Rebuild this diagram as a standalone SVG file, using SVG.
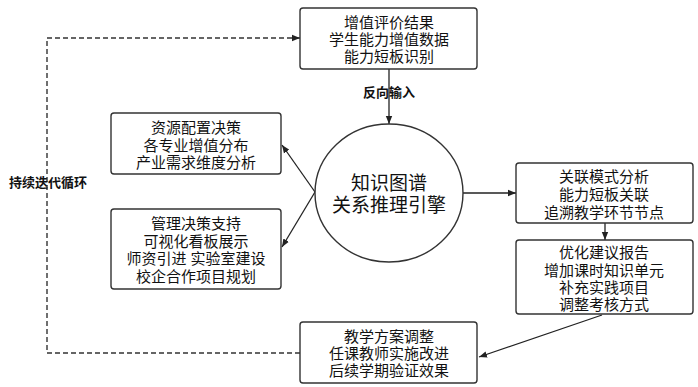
<svg xmlns="http://www.w3.org/2000/svg" width="698" height="387" viewBox="0 0 698 387">
<defs>
<marker id="ah" viewBox="0 0 10 10" refX="10" refY="5" markerWidth="8" markerHeight="8" markerUnits="userSpaceOnUse" orient="auto">
<path d="M0,1 L10,5 L0,9 z" fill="#222"/>
</marker>
<style>
.box{fill:#fff;stroke:#333;stroke-width:1.4}
.t{font-family:"Liberation Sans","Noto Sans CJK SC",sans-serif;font-size:15px;fill:#111;text-anchor:middle;dominant-baseline:central}
.big{font-size:19px}
.lb{font-size:13px;font-weight:bold}
.ln{fill:none;stroke:#222;stroke-width:1.3}
.dash{fill:none;stroke:#333;stroke-width:1.4;stroke-dasharray:5 3}
</style>
</defs>
<rect width="698" height="387" fill="#fff"/>
<g id="connectors">
<path class="dash" d="M300,353 H47 V38 H300" marker-end="url(#ah)"/>
<line class="ln" x1="389" y1="69" x2="389" y2="124" marker-end="url(#ah)"/>
<line class="ln" x1="315" y1="192" x2="282" y2="145" marker-end="url(#ah)"/>
<line class="ln" x1="315" y1="192" x2="282" y2="247" marker-end="url(#ah)"/>
<line class="ln" x1="463" y1="193" x2="516" y2="193" marker-end="url(#ah)"/>
<line class="ln" x1="605" y1="223" x2="605" y2="240" marker-end="url(#ah)"/>
<line class="ln" x1="602" y1="315" x2="479" y2="357" marker-end="url(#ah)"/>
<text class="t lb" x="389" y="92">反向输入</text>
<text class="t lb" x="48" y="182">持续迭代循环</text>
</g>
<g id="eval">
<rect class="box" x="300" y="8" width="177" height="61" rx="3"/>
<text class="t" x="389" y="22">增值评价结果</text>
<text class="t" x="389" y="39">学生能力增值数据</text>
<text class="t" x="389" y="56">能力短板识别</text>
</g>
<g id="engine">
<ellipse cx="389" cy="193" rx="74" ry="69" fill="#fff" stroke="#333" stroke-width="1.4"/>
<text class="t big" x="389" y="183">知识图谱</text>
<text class="t big" x="389" y="205">关系推理引擎</text>
</g>
<g id="resource">
<rect class="box" x="111" y="113" width="170" height="61" rx="3"/>
<text class="t" x="196" y="127">资源配置决策</text>
<text class="t" x="196" y="145">各专业增值分布</text>
<text class="t" x="196" y="162">产业需求维度分析</text>
</g>
<g id="management">
<rect class="box" x="111" y="209" width="170" height="80" rx="3"/>
<text class="t" x="196" y="223">管理决策支持</text>
<text class="t" x="196" y="241">可视化看板展示</text>
<text class="t" x="196" y="258">师资引进  实验室建设</text>
<text class="t" x="196" y="276">校企合作项目规划</text>
</g>
<g id="pattern">
<rect class="box" x="516" y="163" width="177" height="60" rx="3"/>
<text class="t" x="604" y="176">关联模式分析</text>
<text class="t" x="604" y="194">能力短板关联</text>
<text class="t" x="604" y="212">追溯教学环节节点</text>
</g>
<g id="report">
<rect class="box" x="516" y="240" width="177" height="74" rx="3"/>
<text class="t" x="604" y="252">优化建议报告</text>
<text class="t" x="604" y="270">增加课时知识单元</text>
<text class="t" x="604" y="287">补充实践项目</text>
<text class="t" x="604" y="304">调整考核方式</text>
</g>
<g id="adjust">
<rect class="box" x="300" y="322" width="177" height="61" rx="3"/>
<text class="t" x="389" y="336">教学方案调整</text>
<text class="t" x="389" y="353">任课教师实施改进</text>
<text class="t" x="389" y="370">后续学期验证效果</text>
</g>
</svg>
